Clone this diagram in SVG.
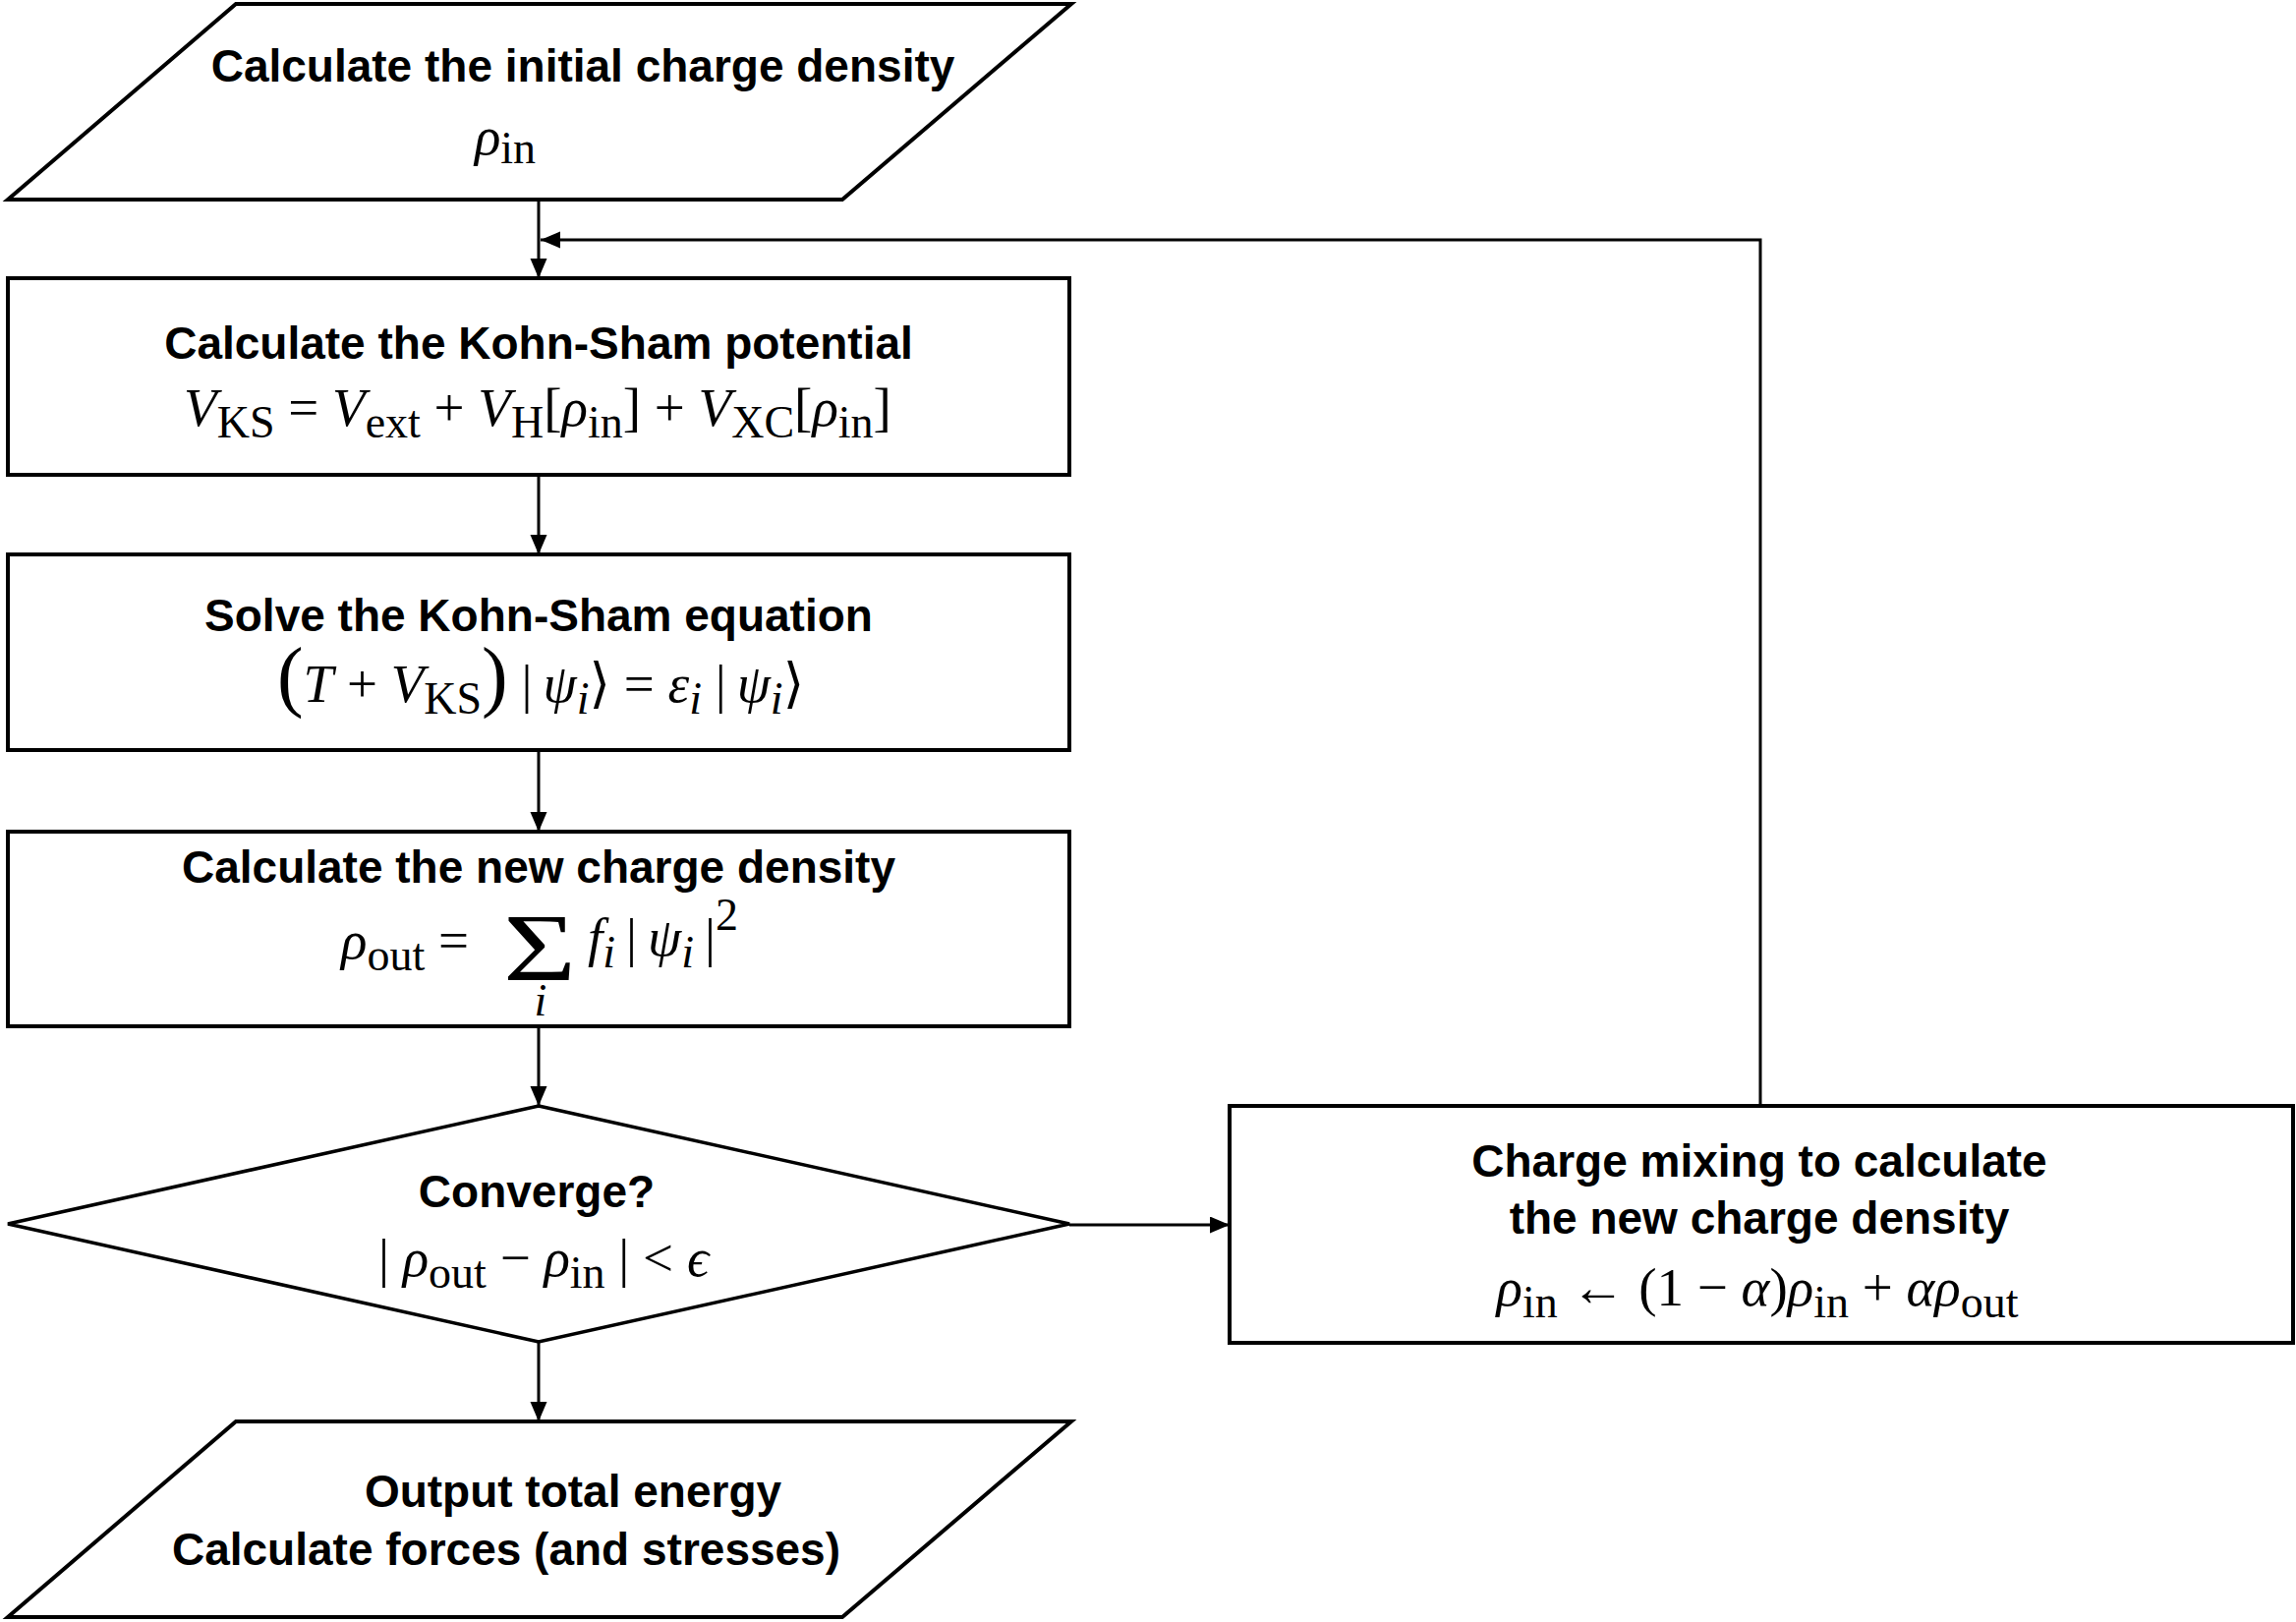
<svg xmlns="http://www.w3.org/2000/svg" width="2336" height="1650" viewBox="0 0 2336 1650">
<defs>
<marker id="ah" markerUnits="userSpaceOnUse" markerWidth="22" markerHeight="18" refX="20" refY="8.5" orient="auto">
<path d="M0,0 L20,8.5 L0,17 z" fill="#000"/>
</marker>
<style>
.node{fill:#fff;stroke:#000;stroke-width:4}
.dia{fill:#fff;stroke:#000;stroke-width:3.5}
.con{fill:none;stroke:#000;stroke-width:3;marker-end:url(#ah)}
.t{font-family:"Liberation Sans",Arial,Helvetica,sans-serif;font-weight:bold;font-size:46px;text-anchor:middle;fill:#000}
.m{font-family:"Liberation Serif","DejaVu Serif","DejaVu Sans",serif;font-size:55px;fill:#000;white-space:pre;text-anchor:middle}
.i{font-style:italic}
.s{font-size:46px}
.big{font-size:80px}
</style>
</defs>
<rect width="2336" height="1650" fill="#fff"/>

<g id="connectors">
<line class="con" x1="548" y1="203" x2="548" y2="283"/>
<path class="con" d="M1791,1125 L1791,244 L550,244"/>
<line class="con" x1="548" y1="483" x2="548" y2="564"/>
<line class="con" x1="548" y1="763" x2="548" y2="846"/>
<line class="con" x1="548" y1="1044" x2="548" y2="1125"/>
<line class="con" x1="548" y1="1365" x2="548" y2="1446"/>
<line class="con" x1="1088" y1="1246" x2="1251" y2="1246"/>
</g>

<g id="n1">
<polygon class="node" points="240,4 1090,4 857,203 8,203"/>
<text class="t" x="593" y="83">Calculate the initial charge density</text>
<text class="m" x="514" y="157"><tspan class="i">ρ</tspan><tspan class="s" dy="9">in</tspan></text>
</g>

<g id="n2">
<rect class="node" x="8" y="283" width="1080" height="200"/>
<text class="t" x="548" y="365">Calculate the Kohn-Sham potential</text>
<text class="m" x="547" y="433"><tspan class="i">V</tspan><tspan class="s" dy="12">KS</tspan><tspan dy="-12"> = </tspan><tspan class="i">V</tspan><tspan class="s" dy="12">ext</tspan><tspan dy="-12"> + </tspan><tspan class="i">V</tspan><tspan class="s" dy="12">H</tspan><tspan dy="-12">[</tspan><tspan class="i">ρ</tspan><tspan class="s" dy="12">in</tspan><tspan dy="-12">] + </tspan><tspan class="i">V</tspan><tspan class="s" dy="12">XC</tspan><tspan dy="-12">[</tspan><tspan class="i">ρ</tspan><tspan class="s" dy="12">in</tspan><tspan dy="-12">]</tspan></text>
</g>

<g id="n3">
<rect class="node" x="8" y="564" width="1080" height="199"/>
<text class="t" x="548" y="642">Solve the Kohn-Sham equation</text>
<text class="m" x="550" y="714"><tspan class="big">(</tspan><tspan class="i">T</tspan><tspan> + </tspan><tspan class="i">V</tspan><tspan class="s" dy="12">KS</tspan><tspan class="big" dy="-12">)</tspan><tspan> |&#8201;</tspan><tspan class="i">ψ</tspan><tspan class="s i" dy="12">i</tspan><tspan dy="-12">⟩ = </tspan><tspan class="i">ε</tspan><tspan class="s i" dy="12">i</tspan><tspan dy="-12"> |&#8201;</tspan><tspan class="i">ψ</tspan><tspan class="s i" dy="12">i</tspan><tspan dy="-12">⟩</tspan></text>
</g>

<g id="n4">
<rect class="node" x="8" y="846" width="1080" height="198"/>
<text class="t" x="548" y="898">Calculate the new charge density</text>
<text class="m" x="347" y="975" style="text-anchor:start"><tspan class="i">ρ</tspan><tspan class="s" dy="12">out</tspan><tspan dy="-12"> =</tspan></text>
<text class="m" transform="translate(549,997) scale(1.3,1)" x="0" y="0" style="font-size:98px">Σ</text>
<text class="m" x="598" y="972" style="text-anchor:start"><tspan class="i">f</tspan><tspan class="s i" dy="12">i</tspan><tspan dy="-12">&#8201;|&#8201;</tspan><tspan class="i">ψ</tspan><tspan class="s i" dy="12">i</tspan><tspan dy="-12">&#8201;|</tspan><tspan class="s" dy="-26">2</tspan></text>
<text class="m i s" x="550" y="1033">i</text>
</g>

<g id="n5">
<polygon class="dia" points="548,1125 1088,1245 548,1365 8,1245"/>
<text class="t" x="546" y="1228">Converge?</text>
<text class="m" x="553" y="1298"><tspan>| </tspan><tspan class="i">ρ</tspan><tspan class="s" dy="12">out</tspan><tspan dy="-12"> − </tspan><tspan class="i">ρ</tspan><tspan class="s" dy="12">in</tspan><tspan dy="-12"> | &lt; </tspan><tspan class="i">ϵ</tspan></text>
</g>

<g id="n6">
<rect class="node" x="1251" y="1125" width="1082" height="241"/>
<text class="t" x="1790" y="1197">Charge mixing to calculate</text>
<text class="t" x="1790" y="1255">the new charge density</text>
<text class="m" x="1788" y="1328"><tspan class="i">ρ</tspan><tspan class="s" dy="12">in</tspan><tspan dy="-12"> ← (1 − </tspan><tspan class="i">α</tspan><tspan>)</tspan><tspan class="i">ρ</tspan><tspan class="s" dy="12">in</tspan><tspan dy="-12"> + </tspan><tspan class="i">αρ</tspan><tspan class="s" dy="12">out</tspan></text>
</g>

<g id="n7">
<polygon class="node" points="240,1446 1090,1446 857,1645 8,1645"/>
<text class="t" x="583" y="1533">Output total energy</text>
<text class="t" x="515" y="1592">Calculate forces (and stresses)</text>
</g>
</svg>
